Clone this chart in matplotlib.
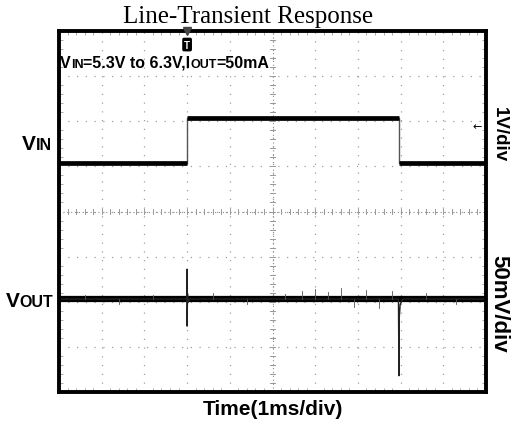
import matplotlib
matplotlib.use("Agg")
import matplotlib.pyplot as plt
import numpy as np
from matplotlib.ticker import MultipleLocator

# ---- data (scope divisions: 10 horizontal x 8 vertical) ----
title = "Line-Transient Response"
x_label = "Time(1ms/div)"
vin_scale_label = "1V/div"
vout_scale_label = "50mV/div"

# VIN step, volts (1 V/div)
vin_t = [0.0, 3.0, 3.0, 7.96, 7.96, 10.0]
vin_v = [5.3, 5.3, 6.3, 6.3, 5.3, 5.3]
vin_pos = 5.07          # screen division where 5.3 V sits

# VOUT deviation, mV (50 mV/div)
vout_t = [0.0, 2.99, 3.0, 3.0, 3.01, 3.02, 3.05, 7.95, 7.96, 7.965, 7.97, 7.99, 8.05, 10.0]
vout_mv = [0, 0, 33, -30, 6, -4, 0, 0, -85, -84, -20, -6, 0, 0]
vout_pos = 2.06         # screen division of the nominal output

# small noise hairs on VOUT (time div, mV)
hair_t = [0.6, 1.4, 2.2, 3.6, 4.4, 5.3, 5.7, 6.0, 6.3, 6.6, 6.9, 7.2, 7.5, 7.8, 8.6, 9.3]
hair_mv = [5, -6, 5, 7, -6, 6, 9, 11, 8, 12, -9, 10, -10, 9, 7, -6]

fig = plt.figure(figsize=(5.13, 4.27), dpi=100)
ax = fig.add_axes([59/513, (427-393)/427, 427/513, 361/427])
ax.set_xlim(0, 10)
ax.set_ylim(0, 8)

# grid
ax.xaxis.set_major_locator(MultipleLocator(1))
ax.yaxis.set_major_locator(MultipleLocator(1))
ax.grid(True, color="#a0a0a0", linestyle=(0, (1, 6)), linewidth=0.9)
ax.tick_params(which="major", length=0, labelbottom=False, labelleft=False)
ax.xaxis.set_minor_locator(MultipleLocator(0.2))
ax.yaxis.set_minor_locator(MultipleLocator(0.2))
ax.tick_params(which="minor", direction="in", length=3, color="#aaaaaa",
               top=True, right=True, bottom=True, left=True, width=0.7)
# center lines with ticks
ax.axhline(4, color="#8a8a8a", linestyle=(0, (1, 2.5)), linewidth=0.8)
ax.axvline(5, color="#8a8a8a", linestyle=(0, (1, 2.5)), linewidth=0.8)
for m in np.arange(0, 10.01, 0.2):
    ax.plot([m, m], [3.95, 4.05], color="#999999", lw=0.7)
for m in np.arange(0, 8.01, 0.2):
    ax.plot([4.95, 5.05], [m, m], color="#999999", lw=0.7)

for s in ax.spines.values():
    s.set_linewidth(2.8)
    s.set_color("black")

# traces: VIN (thin edges, thick noisy levels)
vin_div = [(v - 5.3) / 1.0 + vin_pos for v in vin_v]
ax.plot(vin_t, vin_div, color="#555555", lw=1.0)
for i in range(len(vin_t) - 1):
    if vin_div[i] == vin_div[i + 1]:
        ax.plot(vin_t[i:i + 2], vin_div[i:i + 2], color="black", lw=3.4,
                solid_capstyle="butt")

# VOUT
ax.plot([vout_t[0], vout_t[-1]], [vout_pos, vout_pos], color="black", lw=4.5,
        solid_capstyle="butt")
vout_div = [m / 50.0 + vout_pos for m in vout_mv]
ax.plot(vout_t, vout_div, color="#222222", lw=1.0)
for t, m in zip(hair_t, hair_mv):
    ax.plot([t, t], [vout_pos, vout_pos + m / 50.0], color="#555555", lw=0.6)

# trigger marker
ax.plot([3.0], [8.0], marker="v", color="#444444", markersize=6, clip_on=False, zorder=5)
ax.text(3.0, 7.7, "T", ha="center", va="center", fontsize=7, fontweight="bold",
        color="white", family="Liberation Sans",
        bbox=dict(boxstyle="round,pad=0.12", fc="black", ec="black"))
ax.text(9.8, 5.9, "\u2190", ha="center", va="center", fontsize=8, color="black")

# texts
fig.text(248/513, 1 - 16.5/427, title, ha="center", va="center",
         fontsize=18, family="Liberation Serif")
fig.text(273/513, 1 - 410/427, x_label, ha="center", va="center",
         fontsize=15, fontweight="bold", family="Liberation Sans")
fig.text(499/513, 1 - 135/427, vin_scale_label, ha="center", va="center", rotation=-90,
         fontsize=13.5, fontweight="bold", family="Liberation Sans")
fig.text(499/513, 1 - 304/427, vout_scale_label, ha="center", va="center", rotation=-90,
         fontsize=16, fontweight="bold", family="Liberation Sans")

fig.canvas.draw()
r = fig.canvas.get_renderer()

def run_text(x, y, parts):
    for txt, fs in parts:
        t = fig.text(x, y, txt, ha="left", va="baseline", fontsize=fs,
                     fontweight="bold", family="Liberation Sans")
        bb = t.get_window_extent(renderer=r)
        x = bb.x1 / fig.bbox.width

run_text(22/513, 1 - 150/427, [("V", 15), ("IN", 11.5)])
run_text(6/513, 1 - 307/427, [("V", 15), ("OUT", 11.5)])

# annotation line: VIN=5.3V to 6.3V,IOUT=50mA
run_text(60/513, 1 - 68/427,
         [("V", 11.5), ("IN", 9), ("=5.3V to 6.3V,I", 11.5), ("OUT", 9), ("=50mA", 11.5)])

fig.savefig("out.png", dpi=100)
